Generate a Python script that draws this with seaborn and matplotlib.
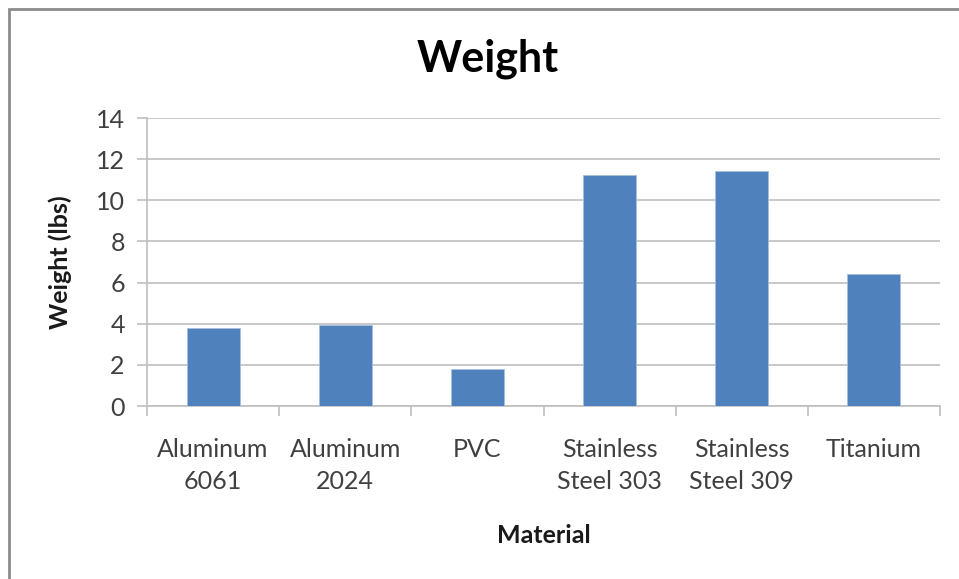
import matplotlib
matplotlib.use("Agg")
import matplotlib.pyplot as plt
import matplotlib.patches as mpatches
import seaborn as sns
import pandas as pd

# chart data
materials = ["Aluminum\n6061", "Aluminum\n2024", "PVC",
             "Stainless\nSteel 303", "Stainless\nSteel 309", "Titanium"]
weights = [3.8, 3.93, 1.8, 11.25, 11.4, 6.4]
y_ticks = [0, 2, 4, 6, 8, 10, 12, 14]

df = pd.DataFrame({"Material": materials, "Weight": weights})

sns.set_style("white")
plt.rcParams["font.family"] = ["Lato", "DejaVu Sans"]

fig = plt.figure(figsize=(9.59, 5.79), dpi=100)
ax = fig.add_axes([147 / 959, 1 - 406 / 579, 793 / 959, 288 / 579])

sns.barplot(data=df, x="Material", y="Weight", color="#4F81BD",
            width=0.4, saturation=1, edgecolor="#A7BFDE", linewidth=0.6,
            ax=ax, zorder=3)

ax.set_xlim(-0.5, len(materials) - 0.5)
ax.set_ylim(0, 14)
ax.set_yticks(y_ticks)
ax.yaxis.grid(True, color="#BFBFBF", linewidth=1.2, zorder=0)
ax.set_axisbelow(True)

for side in ["top", "right"]:
    ax.spines[side].set_visible(False)
for side in ["left", "bottom"]:
    ax.spines[side].set_color("#BFBFBF")
    ax.spines[side].set_linewidth(1.2)

# category separators on the x axis
ax.set_xticks([i - 0.5 for i in range(len(materials) + 1)], minor=True)
ax.tick_params(axis="x", which="minor", length=7, color="#BFBFBF", width=1.2, bottom=True)
ax.tick_params(axis="x", which="major", length=0, pad=23, labelsize=18, labelcolor="#404040")
ax.tick_params(axis="y", length=7, color="#BFBFBF", width=1.2, pad=9, left=True,
               labelsize=18, labelcolor="#404040")
for lbl in ax.get_xticklabels():
    lbl.set_linespacing(1.5)

ax.set_xlabel("Material", fontsize=18, fontweight="bold", color="#1a1a1a")
ax.xaxis.set_label_coords(0.5, -0.41)
ax.set_ylabel("Weight (lbs)", fontsize=18, fontweight="bold", color="#1a1a1a")
ax.yaxis.set_label_coords(-0.095, 0.5)

fig.text(488 / 959, 1 - 59 / 579, "Weight", ha="center", va="center",
         fontsize=31, fontweight="bold", color="black")

# outer chart border
border = mpatches.Rectangle((9 / 959, -0.1), 1.2, 1 - 9 / 579 + 0.1,
                            transform=fig.transFigure, fill=False,
                            edgecolor="#8C8C8C", linewidth=2)
fig.patches.append(border)

fig.savefig("out.png", dpi=100)
plt.close(fig)
